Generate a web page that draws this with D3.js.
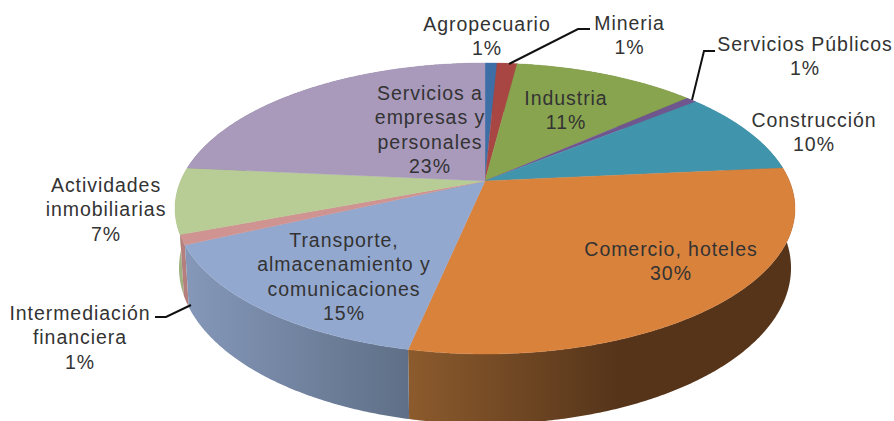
<!DOCTYPE html>
<html><head><meta charset="utf-8">
<script src="https://cdnjs.cloudflare.com/ajax/libs/d3/7.8.5/d3.min.js"></script>
<style>html,body{margin:0;padding:0;background:#fff}svg{display:block}text{font-family:"Liberation Sans",Arial,sans-serif;font-size:19.5px;letter-spacing:0.95px;fill:#333;text-anchor:middle}</style>
</head><body><svg id="c" width="894" height="421"></svg>
<script>
// Data
const categories = ["Agropecuario","Mineria","Industria","Servicios Públicos","Construcción","Comercio, hoteles","Transporte, almacenamiento y comunicaciones","Intermediación financiera","Actividades inmobiliarias","Servicios a empresas y personales"];
const printedPercent = ["1%","1%","11%","1%","10%","30%","15%","1%","7%","23%"];
const sliceShares = [0.75,1.25,11.45,0.65,9.4,29.8,14.8,1.1,7.3,23.5];

// Styling
const topColors = ["#3d6fa6","#a84644","#88a44f","#70568f","#4095ad","#d9823c","#93a8cf","#cf9391","#b8cd96","#a99abc"];
const sideStart = ["#2d5278","#7c3432","#64793a","#523f69","#2f6e80","#8c5b2d","#8598b9","#b47f7d","#9fb282","#7c7189"];
const sideEnd   = ["#2d5278","#7c3432","#64793a","#523f69","#2f6e80","#55341a","#5f6f87","#a06e6c","#9fb282","#7c7189"];
const gradientFrom = [185,185,185,185,185,409,185,185,185,185];
const gradientTo   = [409,409,409,409,409,620,409,409,409,409];

// Layout
const labelLines = [["Agropecuario"],["Mineria"],["Industria"],["Servicios Públicos"],["Construcción"],["Comercio, hoteles"],["Transporte,","almacenamiento y","comunicaciones"],["Intermediación","financiera"],["Actividades","inmobiliarias"],["Servicios a","empresas y","personales"]];
const labelX = [487,629.5,566,805,814,671,344,80,106,430];
const labelY = [31,30,105,51,127,256,247,320,192,100];
const lineStep = 24.4;
const leaders = [
  {i:1, pts:[[509,64],[578,29],[590,29]]},
  {i:3, pts:[[692,100],[704,51],[715,51]]},
  {i:7, pts:[[191,305],[166,317],[155,317]]}
];
const persp = 0.189;
const topDisc = {cx:485, cy:181, R:304.4, H:140.3};
const botDisc = {cx:485, cy:238.5, R:300.5, H:150.4};

function project(d, a){
  const u = Math.sin(a), v = -Math.cos(a), s = 1/(1 - persp*v);
  return [d.cx + d.R*u*s, d.cy + d.H*v*s];
}
const svg = d3.select("#c");
const pie = d3.pie().sort(null).value(d=>d);
const arcs = pie(sliceShares);
const line = d3.line();
const stepRad = Math.PI/360;
function anglesOf(a){
  return d3.range(a.startAngle, a.endAngle, stepRad).concat([a.endAngle]);
}

// Side wall gradients
const defs = svg.append("defs");
arcs.forEach((a,i)=>{
  const g = defs.append("linearGradient").attr("id","side"+i).attr("gradientUnits","userSpaceOnUse")
    .attr("x1",gradientFrom[i]).attr("x2",gradientTo[i]).attr("y1",0).attr("y2",0);
  g.append("stop").attr("offset",0).attr("stop-color",sideStart[i]);
  g.append("stop").attr("offset",1).attr("stop-color",sideEnd[i]);
});

// Side wall: one band per slice, back to front
const bands = arcs.map((a,i)=>({a,i,depth:-Math.cos((a.startAngle+a.endAngle)/2)})).sort((p,q)=>p.depth-q.depth);
svg.append("g").selectAll("path").data(bands).join("path")
  .attr("d",d=>{
    const as = anglesOf(d.a);
    return as.slice(0,-1).map((t,k)=>line([project(topDisc,t),project(topDisc,as[k+1]),project(botDisc,as[k+1]),project(botDisc,t)])+"Z").join("");
  })
  .attr("fill",d=>`url(#side${d.i})`).attr("fill-rule","nonzero");

// Top face
svg.append("g").selectAll("path").data(arcs).join("path")
  .attr("d",a=>line([[topDisc.cx,topDisc.cy]].concat(anglesOf(a).map(t=>project(topDisc,t))))+"Z")
  .attr("fill",(a,i)=>topColors[i]).attr("stroke",(a,i)=>topColors[i]).attr("stroke-width",0.4);

// Leader lines
svg.append("g").selectAll("path").data(leaders).join("path")
  .attr("d",d=>line(d.pts)).attr("fill","none").attr("stroke","#111").attr("stroke-width",2);

// Labels
const lab = svg.append("g").selectAll("text").data(categories).join("text")
  .attr("transform",(d,i)=>`translate(${labelX[i]},${labelY[i]})`);
lab.selectAll("tspan").data((d,i)=>labelLines[i].concat([printedPercent[i]])).join("tspan")
  .attr("x",0).attr("y",(d,j)=>j*lineStep).text(d=>d);
</script></body></html>
